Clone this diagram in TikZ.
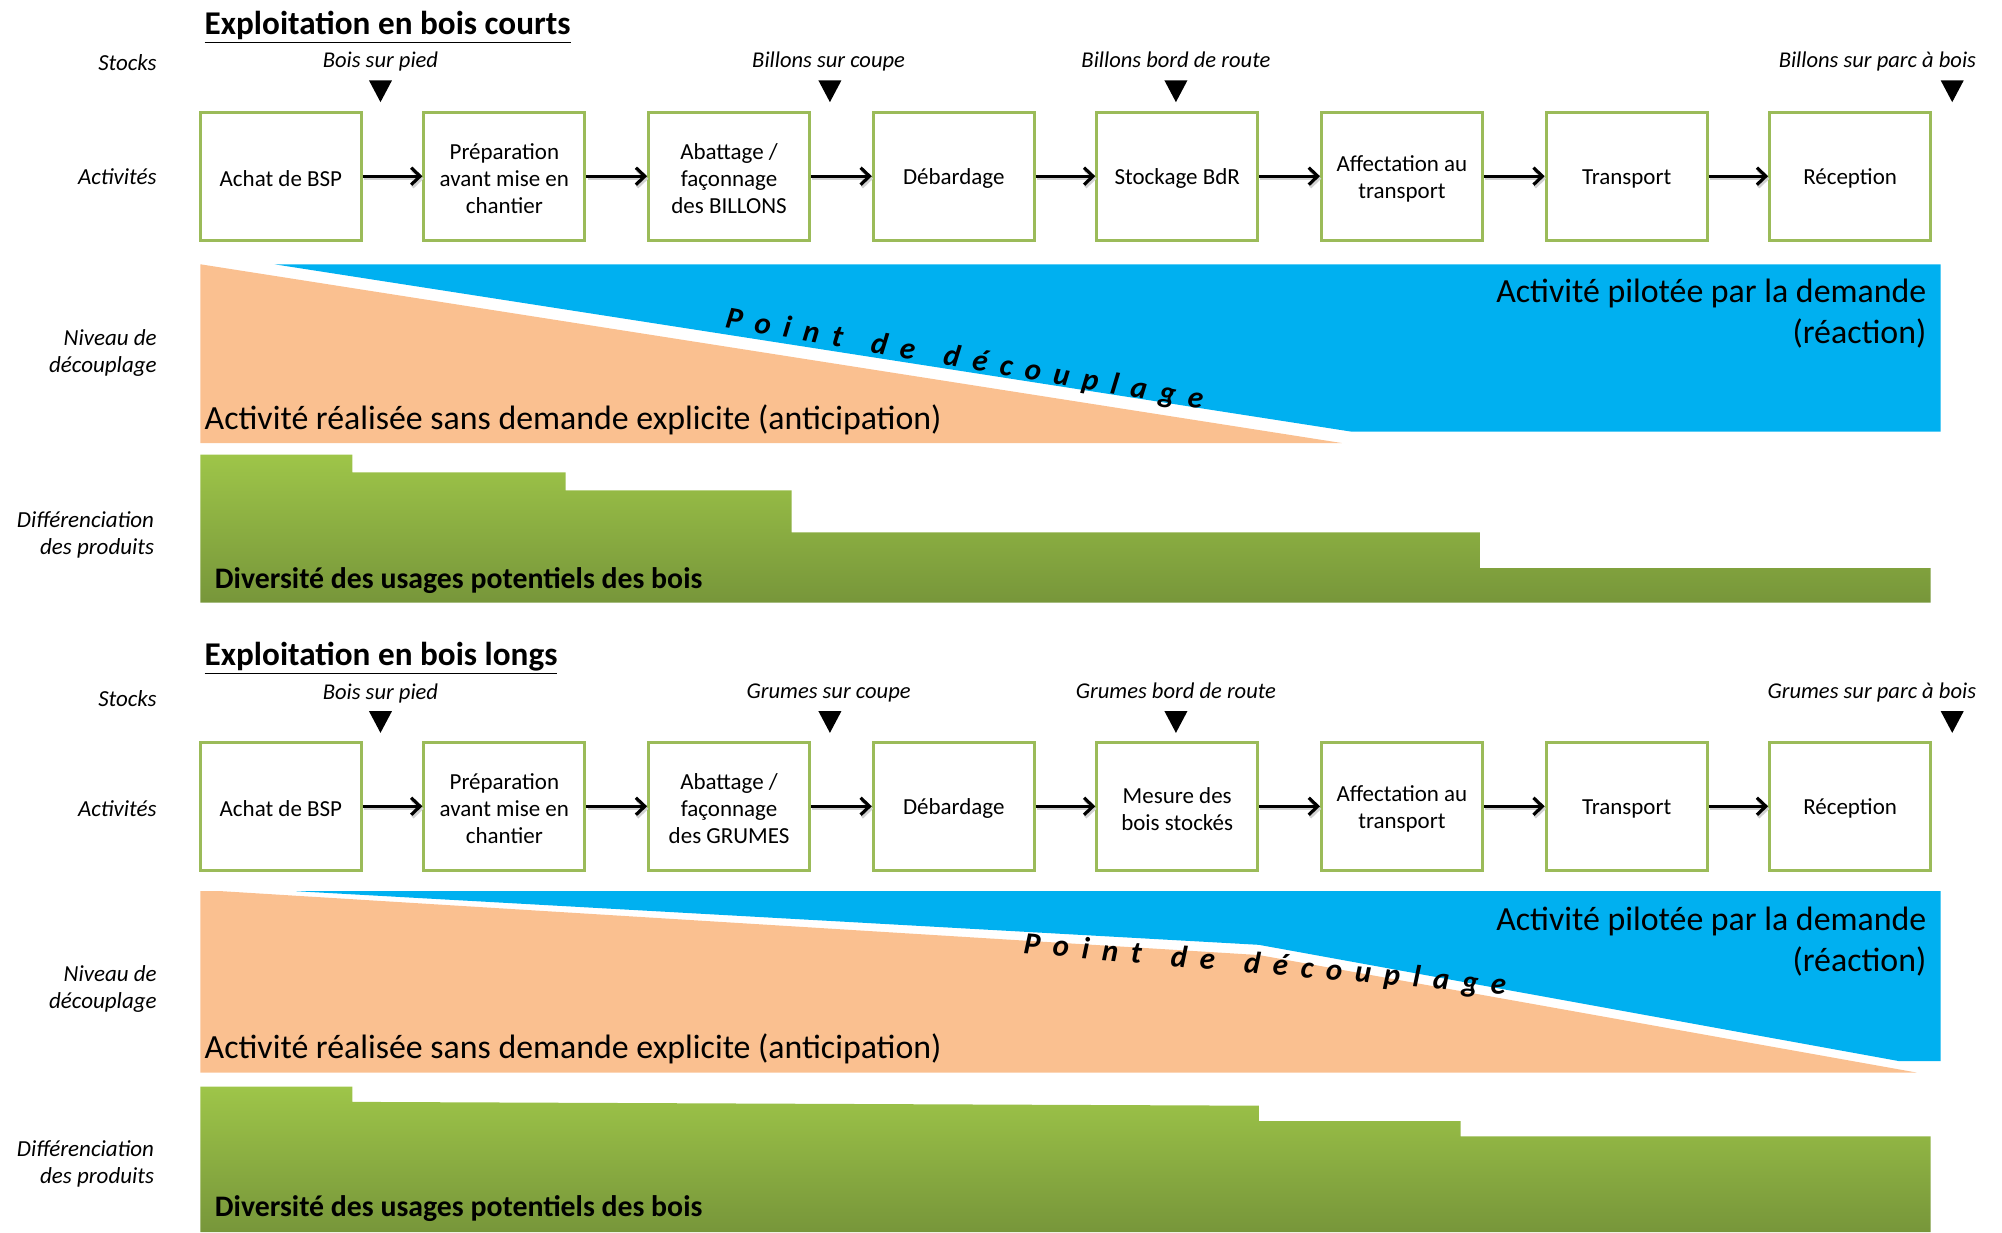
\documentclass[tikz,border=0pt]{standalone}
\usepackage{fontspec}
\setmainfont{Carlito}
\usetikzlibrary{arrows.meta,shadows}
\definecolor{boxgreen}{HTML}{9BBB59}
\definecolor{skyblue}{HTML}{00B0F0}
\definecolor{peach}{HTML}{FAC090}
\definecolor{gtop}{HTML}{9EC549}
\definecolor{gbot}{HTML}{77963A}
\newcommand{\ls}{\hspace{0.413em}}
\newcommand{\lw}{\hspace{0.95em}}
\newcommand{\pdc}{P\ls o\ls i\ls n\ls t\lw d\ls e\lw d\ls é\ls c\ls o\ls u\ls p\ls l\ls a\ls g\ls e}
\begin{document}
\begin{tikzpicture}[x=0.6pt,y=-0.6pt,
  boxtext/.style={align=center, inner sep=0pt, yshift=-1.2pt,
    font=\fontsize{10.8pt}{12.6pt}\selectfont},
  activity/.style={draw=boxgreen, line width=1.4pt, fill=white,
    minimum width=75.6pt, minimum height=60pt, inner sep=0pt,
    drop shadow={shadow xshift=0.7pt, shadow yshift=-0.7pt, opacity=0.18},
    label={[boxtext]center:#1}},
  flow/.style={line width=1.5pt, -{Straight Barb[length=4.2pt,width=8pt,line width=1.5pt]},
    preaction={draw=black!18, line width=1.5pt, transform canvas={xshift=0.6pt,yshift=-1.2pt}}},
  rowlabel/.style={anchor=mid east, align=right, inner sep=0pt,
    font=\fontsize{10.8pt}{12.6pt}\selectfont\itshape},
  stocklabel/.style={anchor=mid, inner sep=0pt, font=\fontsize{10.6pt}{12pt}\selectfont\itshape},
  title/.style={anchor=base west, inner sep=0pt, font=\fontsize{15.6pt}{18pt}\selectfont\bfseries},
  bigtext/.style={inner sep=0pt, font=\fontsize{15.9pt}{19.2pt}\selectfont},
  divtext/.style={anchor=base west, inner sep=0pt, font=\fontsize{14pt}{16pt}\selectfont\bfseries},
  pdctext/.style={anchor=mid, inner sep=0pt, font=\fontsize{14.5pt}{16pt}\selectfont\bfseries\itshape},
  stockmark/.style={fill=black}
]
\useasboundingbox (0,0) rectangle (1568,965);

% ================= TOP SECTION =================
\node[title] (t1) at (160,27) {\underline{Exploitation en bois courts}};

\node[rowlabel] (l1) at (123,51) {Stocks};
\node[rowlabel] (l2) at (123,140.5) {Activités};
\node[rowlabel] (l3) at (123,287.5) {Niveau de\\découplage};
\node[rowlabel] (l4) at (121,430.5) {Différenciation\\des produits};

\node[stocklabel] (s1) at (298,49) {Bois sur pied};
\node[stocklabel] (s2) at (649,49) {Billons sur coupe};
\node[stocklabel] (s3) at (921,49) {Billons bord de route};
\node[stocklabel, anchor=mid east] (s4) at (1548,49) {Billons sur parc à bois};
\foreach \x in {298,650,921,1529}{
  \fill[stockmark] (\x-9,63) -- (\x+9,63) -- (\x,80) -- cycle;
}

\node[activity={Achat de BSP}] (a1) at (220,138) {};
\node[activity={Préparation\\avant mise en\\chantier}] (a2) at (395,138) {};
\node[activity={Abattage /\\façonnage\\des BILLONS}] (a3) at (571,138) {};
\node[activity={Débardage}] (a4) at (747,138) {};
\node[activity={Stockage BdR}] (a5) at (922,138) {};
\node[activity={Affectation au\\transport}] (a6) at (1098,138) {};
\node[activity={Transport}] (a7) at (1274,138) {};
\node[activity={Réception}] (a8) at (1449,138) {};
\foreach \i [evaluate=\i as \j using int(\i+1)] in {1,...,7}{
  \draw[flow] (a\i.east) -- (a\j.west);
}

\fill[peach] (157,207) -- (1051,347) -- (157,347) -- cycle;
\fill[skyblue] (215,207) -- (1520,207) -- (1520,338) -- (1058,338) -- cycle;
\node[pdctext, rotate=-9.8] (p1) at (755,284.5) {\pdc};
\node[bigtext, anchor=north east, align=right] (d1) at (1509,218) {Activité pilotée par la demande\\(réaction)};
\node[bigtext, anchor=base west] (e1) at (160,336) {Activité réalisée sans demande explicite (anticipation)};

\shade[top color=gtop, bottom color=gbot]
  (157,356) -- (276,356) -- (276,370) -- (443,370) -- (443,384) -- (620,384)
  -- (620,417) -- (1159,417) -- (1159,445) -- (1512,445) -- (1512,472) -- (157,472) -- cycle;
\node[divtext] (v1) at (168,461) {Diversité des usages potentiels des bois};

% ================= BOTTOM SECTION =================
\node[title] (t2) at (160,521) {\underline{Exploitation en bois longs}};

\node[rowlabel] (m1) at (123,549) {Stocks};
\node[rowlabel] (m2) at (123,635.5) {Activités};
\node[rowlabel] (m3) at (123,786) {Niveau de\\découplage};
\node[rowlabel] (m4) at (121,923) {Différenciation\\des produits};

\node[stocklabel] (r1) at (298,543.5) {Bois sur pied};
\node[stocklabel] (r2) at (649,543) {Grumes sur coupe};
\node[stocklabel] (r3) at (921,543) {Grumes bord de route};
\node[stocklabel, anchor=mid east] (r4) at (1548,543) {Grumes sur parc à bois};
\foreach \x in {298,650,921,1529}{
  \fill[stockmark] (\x-9,557) -- (\x+9,557) -- (\x,574) -- cycle;
}

\node[activity={Achat de BSP}] (b1) at (220,631.5) {};
\node[activity={Préparation\\avant mise en\\chantier}] (b2) at (395,631.5) {};
\node[activity={Abattage /\\façonnage\\des GRUMES}] (b3) at (571,631.5) {};
\node[activity={Débardage}] (b4) at (747,631.5) {};
\node[activity={Mesure des\\bois stockés}] (b5) at (922,631.5) {};
\node[activity={Affectation au\\transport}] (b6) at (1098,631.5) {};
\node[activity={Transport}] (b7) at (1274,631.5) {};
\node[activity={Réception}] (b8) at (1449,631.5) {};
\foreach \i [evaluate=\i as \j using int(\i+1)] in {1,...,7}{
  \draw[flow] (b\i.east) -- (b\j.west);
}

\fill[peach] (157,698) -- (174,698) -- (986,748) -- (1501,840) -- (157,840) -- cycle;
\fill[skyblue] (232,698) -- (1520,698) -- (1520,831) -- (1487,831) -- (986,740) -- cycle;
\node[pdctext, rotate=-4.9] (p2) at (990.5,759) {\pdc};
\node[bigtext, anchor=north east, align=right] (d2) at (1509,710) {Activité pilotée par la demande\\(réaction)};
\node[bigtext, anchor=base west] (e2) at (160,829) {Activité réalisée sans demande explicite (anticipation)};

\shade[top color=gtop, bottom color=gbot]
  (157,851) -- (276,851) -- (276,863) -- (986,866) -- (986,878) -- (1144,878)
  -- (1144,890) -- (1512,890) -- (1512,965) -- (157,965) -- cycle;
\node[divtext] (v2) at (168,953) {Diversité des usages potentiels des bois};
\end{tikzpicture}
\end{document}
